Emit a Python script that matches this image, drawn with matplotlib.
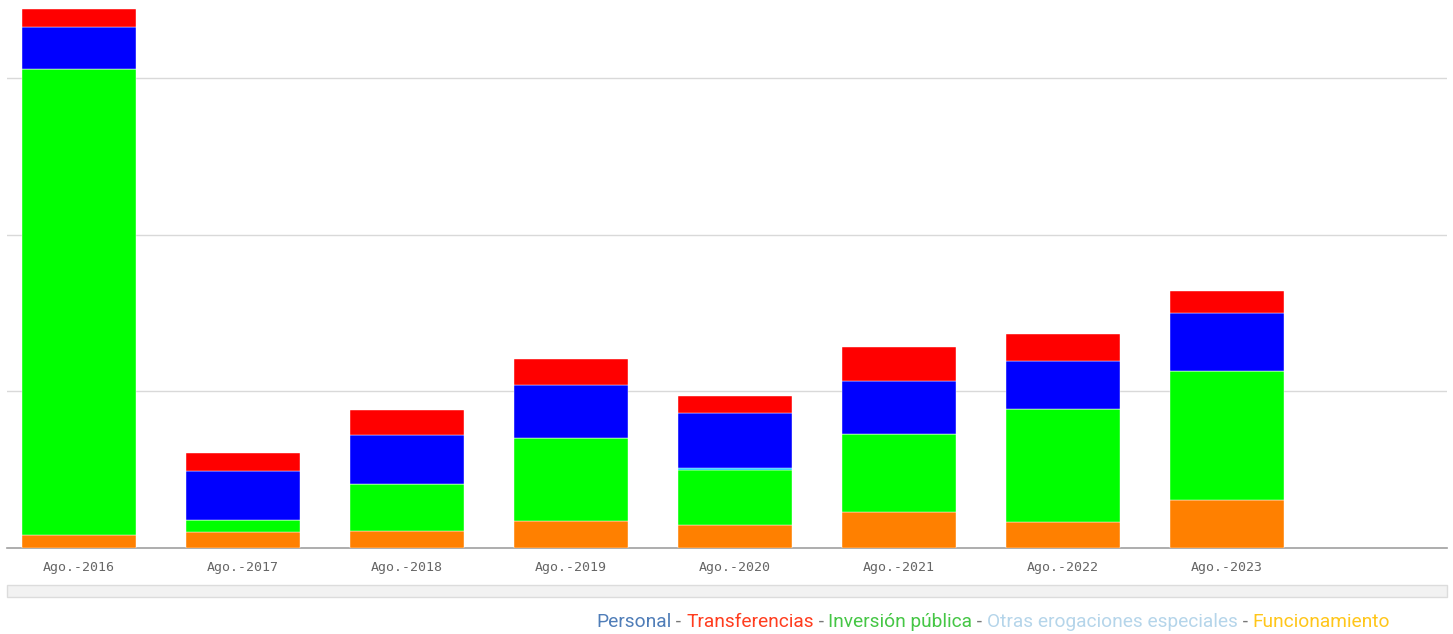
import numpy as np
import matplotlib.pyplot as plt
from matplotlib.patches import Rectangle

# fecha de corte de cada año
periodos = ['Ago.-2016', 'Ago.-2017', 'Ago.-2018', 'Ago.-2019',
            'Ago.-2020', 'Ago.-2021', 'Ago.-2022', 'Ago.-2023']

# valores (escala arbitraria, grilla cada 1000)
funcionamiento = [83, 102, 109, 172, 147, 230, 166, 306]
inversion = [2974, 77, 300, 530, 351, 498, 721, 823]
otras = [0, 0, 0, 0, 13, 0, 0, 0]
personal = [268, 313, 313, 338, 351, 338, 306, 370]
transferencias = [115, 115, 160, 166, 109, 217, 172, 140]

series = [funcionamiento, inversion, otras, personal, transferencias]
colores = ['#ff8000', '#00ff00', '#00ccff', '#0000ff', '#ff0000']

W, H = 1453, 634
fig = plt.figure(figsize=(W/100, H/100), dpi=100)
ax = fig.add_axes([7/W, (H-548)/H, 1440/W, 548/H])

x = np.arange(len(periodos))
bottom = np.zeros(len(periodos))
for vals, col in zip(series, colores):
    ax.bar(x, vals, 0.695, bottom=bottom, color=col, edgecolor='#ffffff',
           linewidth=0.3, zorder=3)
    bottom = bottom + np.array(vals)

ax.set_xlim(-0.44, 8.34)
ax.set_ylim(0, 3498)
ax.set_yticks([1000, 2000, 3000])
ax.yaxis.grid(True, color='#d9d9d9', linewidth=1, zorder=0)
ax.tick_params(left=False, labelleft=False, bottom=False)
for s in ['top', 'right', 'left']:
    ax.spines[s].set_visible(False)
ax.spines['bottom'].set_color('#a0a0a0')
ax.spines['bottom'].set_linewidth(1.2)
ax.set_xticks(x)
ax.set_xticklabels(periodos, family='DejaVu Sans Mono', fontsize=9.5,
                   color='#666666')
ax.tick_params(axis='x', pad=6)

# barra gris inferior
fig.patches.append(Rectangle((7/W, (H-597)/H), 1440/W, 12/H,
                             transform=fig.transFigure, facecolor='#f2f2f2',
                             edgecolor='#dcdcdc', linewidth=1))

# leyenda en texto de colores
partes = [('Personal', '#4f7db8'), (' - ', '#777777'),
          ('Transferencias', '#ff3d1f'), (' - ', '#777777'),
          ('Inversión pública', '#45c645'), (' - ', '#777777'),
          ('Otras erogaciones especiales', '#b5d5ea'), (' - ', '#777777'),
          ('Funcionamiento', '#ffc61a')]
renderer = fig.canvas.get_renderer()
xpos = 596
for txt, col in partes:
    t = fig.text(xpos/W, (H-627)/H, txt, color=col, fontsize=13.8,
                 family='Roboto', ha='left', va='baseline')
    bb = t.get_window_extent(renderer)
    xpos = xpos + bb.width

fig.savefig('out.png', dpi=100)
